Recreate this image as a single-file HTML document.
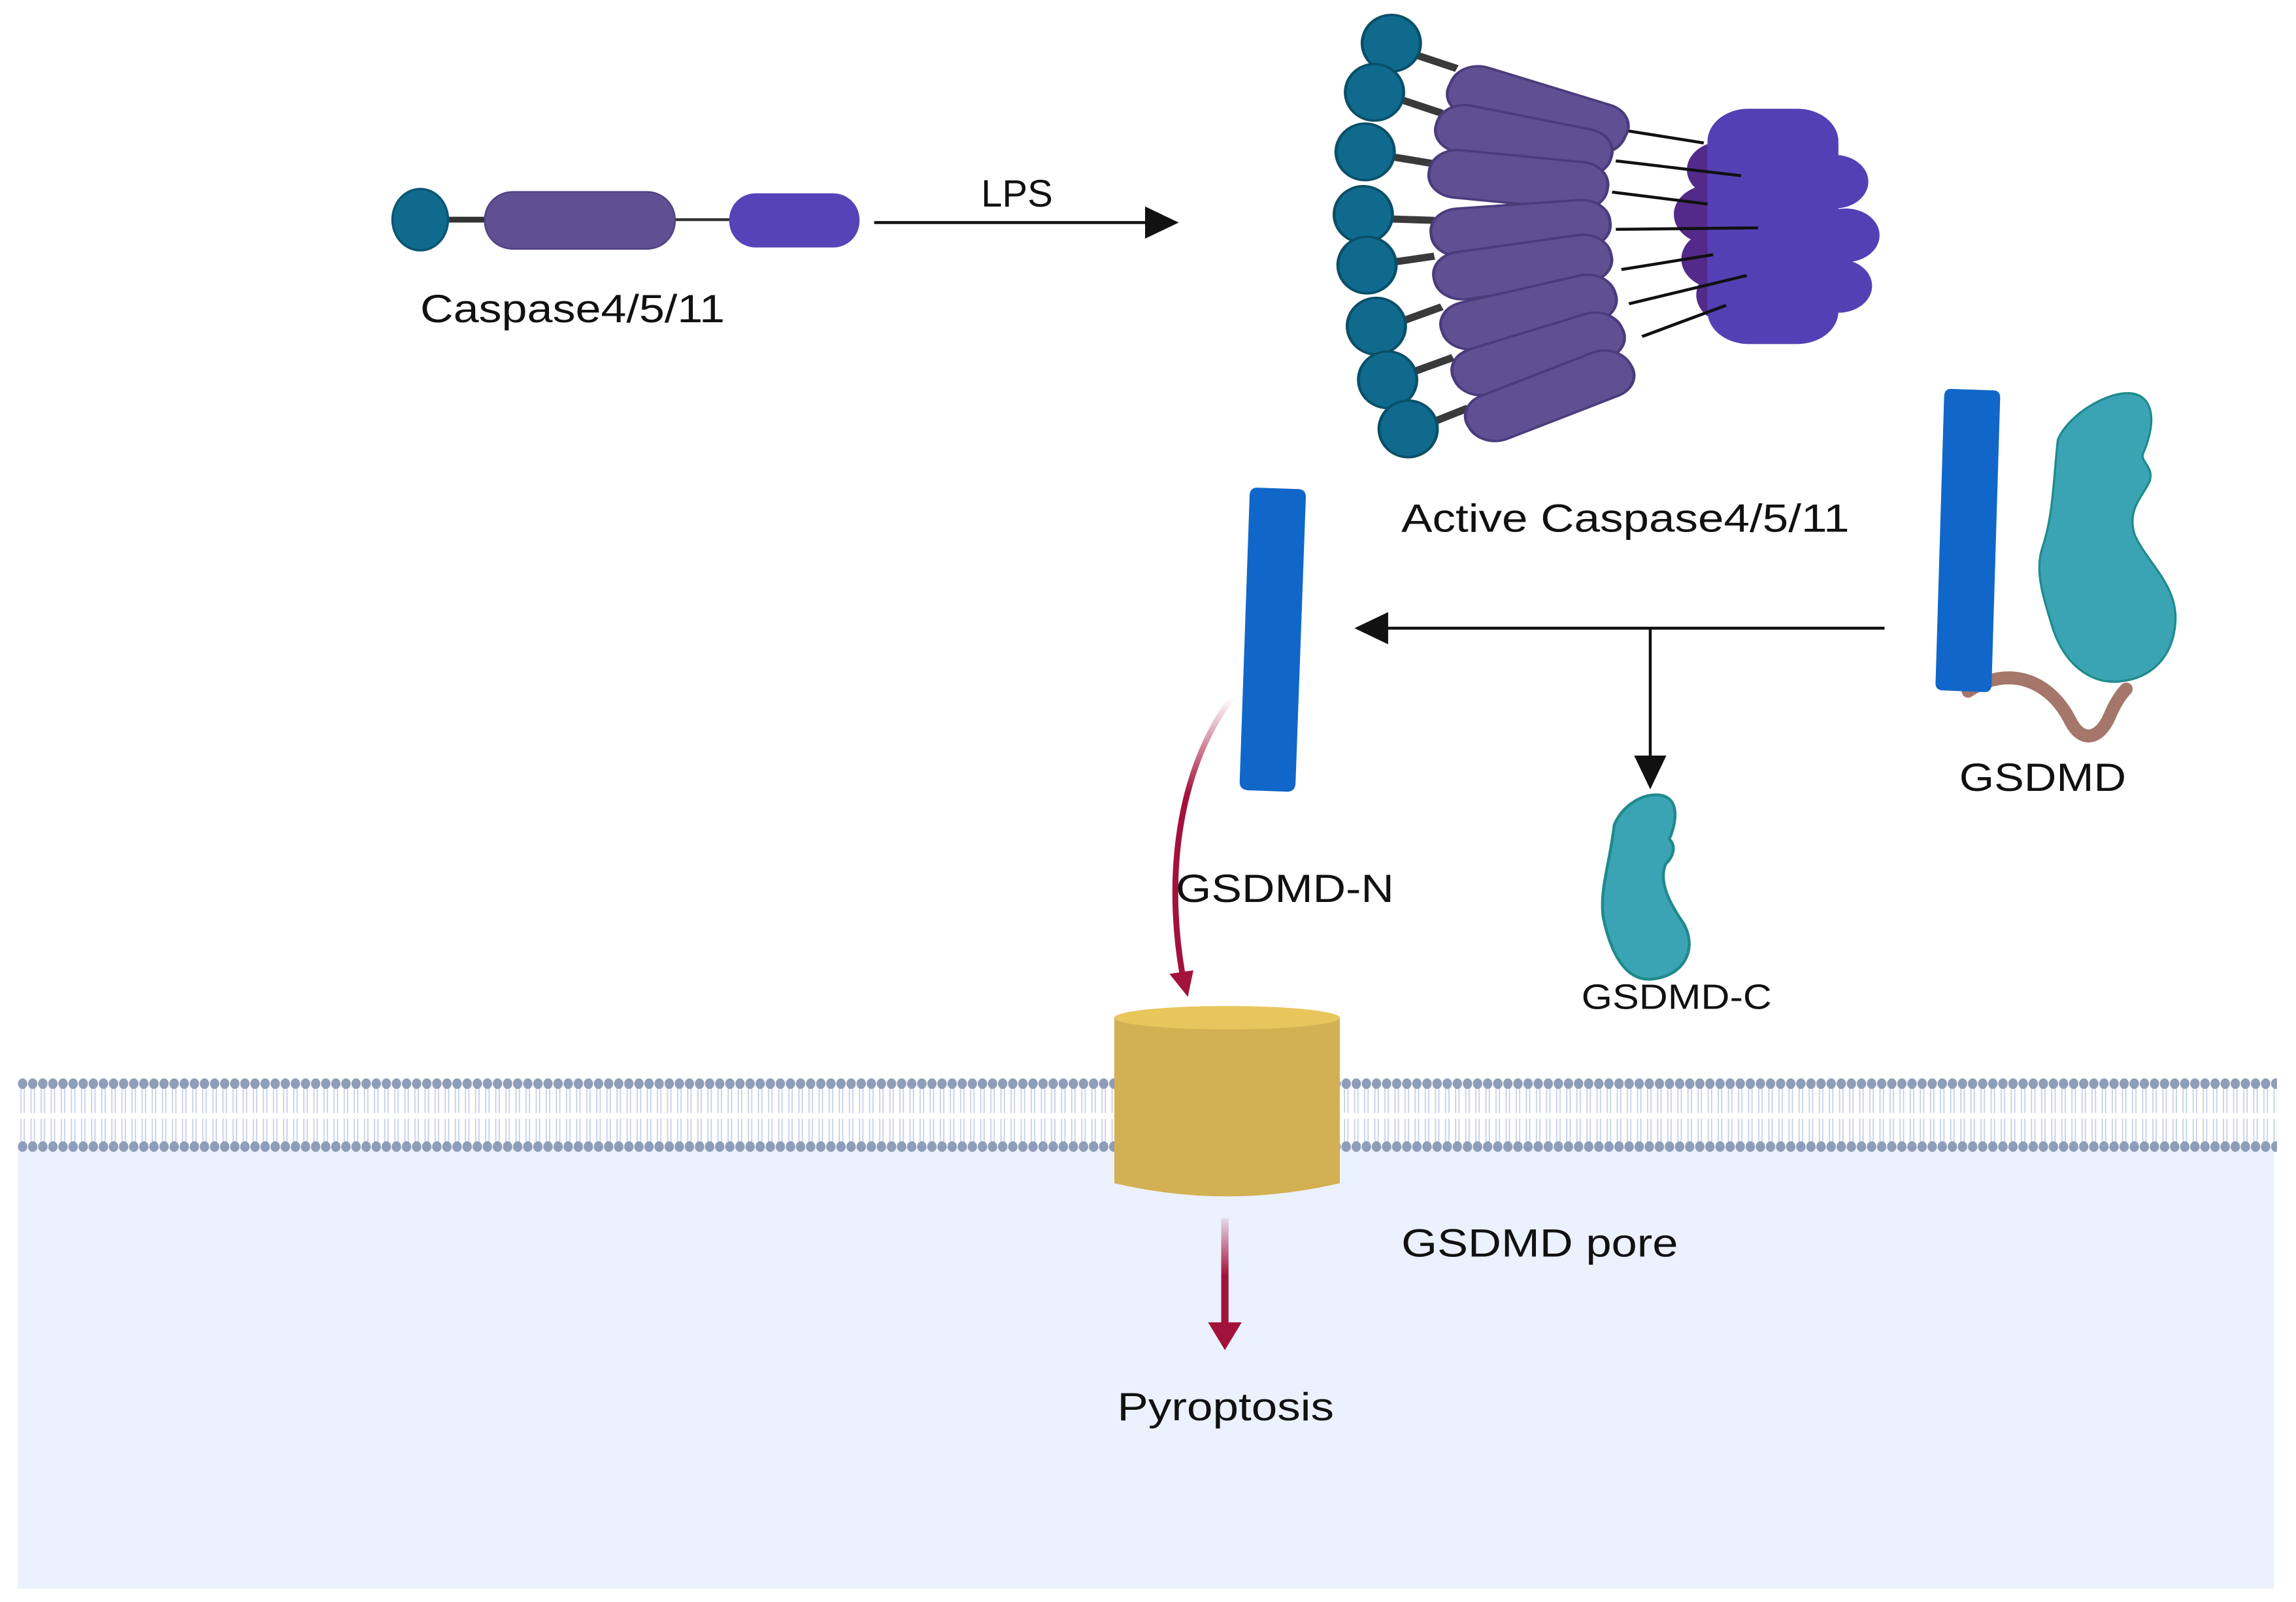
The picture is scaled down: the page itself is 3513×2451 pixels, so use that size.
<!DOCTYPE html>
<html><head><meta charset="utf-8"><style>
html,body{margin:0;padding:0;background:#fff;}
svg{display:block;}
text{font-family:"Liberation Sans",sans-serif;fill:#111;}
</style></head><body>
<svg width="3513" height="2451" viewBox="0 0 1568 1094" preserveAspectRatio="none" xmlns="http://www.w3.org/2000/svg">
<defs>
<pattern id="heads" x="12" y="0" width="6.9" height="1094" patternUnits="userSpaceOnUse">
<line x1="2.3" y1="740" x2="2.3" y2="760" stroke="#c5d0e6" stroke-width="0.8"/>
<line x1="4.6" y1="740" x2="4.6" y2="760" stroke="#c5d0e6" stroke-width="0.8"/>
<line x1="2.3" y1="764" x2="2.3" y2="783" stroke="#c5d0e6" stroke-width="0.8"/>
<line x1="4.6" y1="764" x2="4.6" y2="783" stroke="#c5d0e6" stroke-width="0.8"/>
<ellipse cx="3.45" cy="740" rx="3.2" ry="3.6" fill="#8e9db8"/>
<ellipse cx="3.45" cy="783" rx="3.2" ry="3.6" fill="#8e9db8"/>
</pattern>
<linearGradient id="redfade" x1="0" y1="0" x2="0" y2="1">
<stop offset="0" stop-color="#a3123a" stop-opacity="0"/>
<stop offset="0.35" stop-color="#a3123a" stop-opacity="1"/>
</linearGradient>
<linearGradient id="redfade2" x1="0" y1="0" x2="0" y2="1">
<stop offset="0" stop-color="#a3123a" stop-opacity="0.1"/>
<stop offset="0.5" stop-color="#a3123a" stop-opacity="1"/>
</linearGradient>
</defs>

<rect x="12" y="783" width="1541" height="302" fill="#ebf1fd"/>
<rect x="12" y="736" width="1543" height="51" fill="url(#heads)"/>

<path d="M761,695 L761,808 Q838,826 915,808 L915,695 Z" fill="#d3b053"/>
<ellipse cx="838" cy="695" rx="77" ry="8" fill="#e8c65c"/>

<line x1="300" y1="150" x2="335" y2="150" stroke="#333" stroke-width="4"/>
<line x1="458" y1="150" x2="500" y2="150" stroke="#333" stroke-width="2"/>
<ellipse cx="287" cy="150" rx="19" ry="21" fill="#0f6a8e" stroke="#0a5572" stroke-width="1.5"/>
<rect x="331" y="131" width="130" height="39" rx="19" fill="#5f4f93" stroke="#4f4080" stroke-width="1"/>
<rect x="498" y="132" width="89" height="37" rx="18" fill="#5743b8"/>
<text x="287" y="220" font-size="27" textLength="208" lengthAdjust="spacingAndGlyphs">Caspase4/5/11</text>

<line x1="597" y1="152" x2="786" y2="152" stroke="#111" stroke-width="2"/>
<polygon points="782,141 805,152 782,163" fill="#111"/>
<text x="670" y="141" font-size="26" textLength="49" lengthAdjust="spacingAndGlyphs">LPS</text>

<g transform="translate(892.7,0) scale(0.2555,0.2034)">
<g stroke="#3a3a3a" stroke-width="24">
<line x1="280" y1="180" x2="400" y2="230"/>
<line x1="240" y1="330" x2="360" y2="380"/>
<line x1="220" y1="525" x2="340" y2="550"/>
<line x1="220" y1="735" x2="340" y2="740"/>
<line x1="230" y1="880" x2="340" y2="860"/>
<line x1="250" y1="1080" x2="360" y2="1030"/>
<line x1="280" y1="1250" x2="390" y2="1200"/>
<line x1="330" y1="1420" x2="430" y2="1370"/>
</g>
<g fill="#5f4f93" stroke="#4a3c7c" stroke-width="8">
<rect x="350" y="-75" width="500" height="170" rx="75" transform="translate(620,360) rotate(21) translate(-600,0)"/>
<rect x="350" y="-75" width="480" height="160" rx="75" transform="translate(590,470) rotate(14) translate(-600,0)"/>
<rect x="350" y="-75" width="480" height="160" rx="75" transform="translate(575,600) rotate(7) translate(-600,0)"/>
<rect x="350" y="-75" width="480" height="160" rx="75" transform="translate(580,760) rotate(-5) translate(-600,0)"/>
<rect x="350" y="-75" width="480" height="160" rx="75" transform="translate(585,890) rotate(-10) translate(-600,0)"/>
<rect x="350" y="-75" width="480" height="160" rx="75" transform="translate(600,1040) rotate(-16) translate(-600,0)"/>
<rect x="350" y="-75" width="480" height="160" rx="75" transform="translate(625,1180) rotate(-21) translate(-600,0)"/>
<rect x="350" y="-75" width="480" height="160" rx="75" transform="translate(655,1320) rotate(-26) translate(-600,0)"/>
</g>
<g fill="#0f6a8e" stroke="#0a4f68" stroke-width="8">
<ellipse cx="225" cy="145" rx="78" ry="95"/>
<ellipse cx="180" cy="310" rx="78" ry="95"/>
<ellipse cx="155" cy="510" rx="78" ry="95"/>
<ellipse cx="150" cy="720" rx="78" ry="95"/>
<ellipse cx="160" cy="890" rx="78" ry="95"/>
<ellipse cx="185" cy="1095" rx="78" ry="95"/>
<ellipse cx="215" cy="1275" rx="78" ry="95"/>
<ellipse cx="270" cy="1440" rx="78" ry="95"/>
</g>
<g fill="#532a8a">
<circle cx="1110" cy="570" r="95"/>
<circle cx="1080" cy="720" r="100"/>
<circle cx="1100" cy="870" r="100"/>
<circle cx="1140" cy="990" r="100"/>
</g>
<g fill="#5440b5">
<rect x="1070" y="365" width="350" height="790" rx="110"/>
<circle cx="1410" cy="610" r="90"/>
<circle cx="1440" cy="790" r="90"/>
<circle cx="1420" cy="960" r="90"/>
</g>
<g stroke="#111" stroke-width="10">
<line x1="860" y1="440" x2="1060" y2="480"/>
<line x1="825" y1="540" x2="1160" y2="590"/>
<line x1="815" y1="645" x2="1070" y2="685"/>
<line x1="825" y1="770" x2="1205" y2="765"/>
<line x1="840" y1="905" x2="1085" y2="855"/>
<line x1="860" y1="1020" x2="1175" y2="925"/>
<line x1="895" y1="1130" x2="1120" y2="1025"/>
</g>
</g>
<text x="957" y="363" font-size="27" textLength="306" lengthAdjust="spacingAndGlyphs">Active Caspase4/5/11</text>

<g transform="translate(1294.4,258.9) scale(0.146,0.148)">
<path d="M340,1440 C520,1320 720,1380 820,1580 C880,1690 960,1650 1000,1560 C1030,1490 1060,1450 1080,1430" fill="none" stroke="#a5766a" stroke-width="60" stroke-linecap="round"/>
<path d="M260,45 L460,52 Q492,54 490,90 L450,1410 Q449,1445 415,1444 L220,1436 Q186,1434 188,1400 L228,80 Q230,44 260,45 Z" fill="#1067c9"/>
<path d="M1080,65 C1200,60 1230,180 1160,340 C1140,380 1210,400 1190,470 C1160,540 1080,600 1120,720 C1180,850 1320,950 1310,1120 C1300,1280 1200,1380 1050,1395 C900,1410 780,1300 730,1130 C690,1000 650,880 690,770 C740,620 740,450 760,280 C800,180 960,70 1080,65 Z" fill="#3ba4b4" stroke="#1f8a8c" stroke-width="10"/>
</g>
<text x="1338" y="540" font-size="27" textLength="114" lengthAdjust="spacingAndGlyphs">GSDMD</text>

<line x1="1287" y1="429" x2="945" y2="429" stroke="#111" stroke-width="2"/>
<polygon points="925,429 948,418 948,440" fill="#111"/>
<line x1="1127" y1="429" x2="1127" y2="520" stroke="#111" stroke-width="2"/>
<polygon points="1116,516 1138,516 1127,539" fill="#111"/>

<g transform="translate(781.1,321.4) scale(0.251,0.242)">
<path d="M310,48 L420,52 Q442,53 441,76 L413,882 Q412,907 388,906 L285,902 Q260,901 261,877 L288,70 Q289,47 310,48 Z" fill="#1067c9"/>
<path d="M240,640 C90,850 60,1150 105,1420" fill="none" stroke="url(#redfade)" stroke-width="16"/>
<polygon points="70,1420 135,1410 120,1485" fill="#a3123a"/>
<path d="M1400,915 C1460,920 1450,990 1430,1040 C1450,1060 1440,1090 1420,1110 C1400,1160 1430,1220 1470,1280 C1510,1360 1460,1430 1380,1435 C1310,1440 1270,1360 1250,1260 C1240,1180 1270,1100 1280,1000 C1300,950 1350,912 1400,915 Z" fill="#3ba4b4" stroke="#1f8a8c" stroke-width="8"/>
</g>
<text x="803" y="616" font-size="27" textLength="149" lengthAdjust="spacingAndGlyphs">GSDMD-N</text>
<text x="1080" y="689" font-size="24" textLength="130" lengthAdjust="spacingAndGlyphs">GSDMD-C</text>

<rect x="834" y="832" width="5" height="78" fill="url(#redfade2)"/>
<polygon points="825,903 848,903 836.5,922" fill="#a3123a"/>
<text x="957" y="858" font-size="27" textLength="189" lengthAdjust="spacingAndGlyphs">GSDMD pore</text>
<text x="763" y="970" font-size="27" textLength="148" lengthAdjust="spacingAndGlyphs">Pyroptosis</text>
</svg>
</body></html>
